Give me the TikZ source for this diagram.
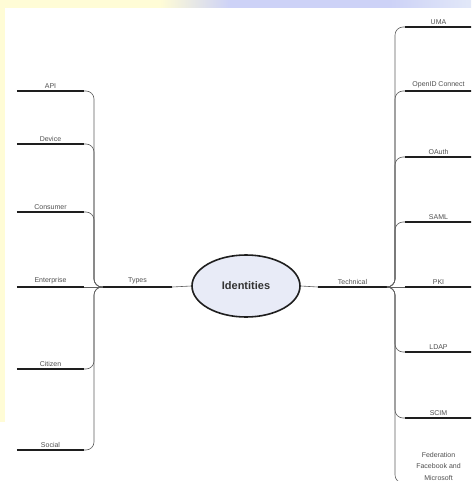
\documentclass[tikz,border=0pt]{standalone}
\usepackage{fontspec}
\setmainfont{Liberation Sans}
\usetikzlibrary{positioning,shapes.geometric}
\definecolor{barc}{RGB}{30,30,30}
\definecolor{linkc}{RGB}{95,95,95}
\definecolor{textc}{RGB}{80,80,80}
\definecolor{hubfill}{RGB}{232,235,247}
\definecolor{slideyel}{RGB}{255,252,214}
\definecolor{slideblu}{RGB}{205,210,247}
\definecolor{slidesky}{RGB}{226,232,248}
\tikzset{
  item/.style   = {anchor=south, minimum width=67pt, inner xsep=0pt, inner ysep=2.5pt,
                   align=center, text=textc, font=\fontsize{7}{8.5}\selectfont},
  branch/.style = {item, minimum width=69pt},
  bar/.style    = {line width=2.2pt, draw=barc},
  link/.style   = {draw=linkc, line width=0.6pt, rounded corners=8pt},
  hub/.style    = {ellipse, draw=barc, line width=1.6pt, fill=hubfill,
                   minimum width=108pt, minimum height=62pt, text=black!80,
                   font=\fontsize{11}{13}\selectfont\bfseries},
}
\begin{document}
\begin{tikzpicture}[x=1pt,y=-1pt]
\clip (0,0) rectangle (471,481);
% slide background
\fill[white] (0,0) rectangle (471,481);
\fill[slideyel] (0,0) rectangle (160,8);
\shade[left color=slideyel, right color=slideblu] (160,0) rectangle (230,8);
\fill[slideblu] (230,0) rectangle (390,8);
\shade[left color=slideblu, right color=slidesky] (390,0) rectangle (471,8);
\fill[slideyel] (0,8) rectangle (5,422);

\node[hub] (hub) at (246,286) {Identities};
\node[branch] (types) at (137.5,287) {Types};
\node[branch] (technical) at (352.5,287) {Technical};
\coordinate (spineL) at (94,287);
\coordinate (spineR) at (395,287);

% kinds of identity
\node[item] (api) at (50.5,91) {API};
\node[item] (device) at (50.5,144) {Device};
\node[item] (consumer) at (50.5,212) {Consumer};
\node[item] (enterprise) at (50.5,287) {Enterprise};
\node[item] (citizen) at (50.5,369) {Citizen};
\node[item] (social) at (50.5,450) {Social};

% technical standards
\node[item] (uma) at (438.5,27) {UMA};
\node[item] (openid) at (438.5,91) {OpenID Connect};
\node[item] (oauth) at (438.5,157) {OAuth};
\node[item] (saml) at (438.5,222) {SAML};
\node[item] (pki) at (438.5,287) {PKI};
\node[item] (ldap) at (438.5,352) {LDAP};
\node[item] (scim) at (438.5,418) {SCIM};
\node[item, font=\fontsize{7}{11.5}\selectfont] (fed) at (438.5,483)
  {Federation\\Facebook and\\Microsoft};

\foreach \n in {types,technical,api,device,consumer,enterprise,citizen,social,
                uma,openid,oauth,saml,pki,ldap,scim,fed}
  \draw[bar] (\n.south west) -- (\n.south east);

\draw[link] (types.south east) -- (hub.west);
\draw[link] (hub.east) -- (technical.south west);
\draw[link] (enterprise.south east) -- (types.south west);
\foreach \n in {api,device,consumer,citizen,social}
  \draw[link] (\n.south east) -| (spineL) -- (types.south west);
\draw[link] (technical.south east) -- (pki.south west);
\foreach \n in {uma,openid,oauth,saml,ldap,scim,fed}
  \draw[link] (technical.south east) -- (spineR) |- (\n.south west);

\end{tikzpicture}
\end{document}
